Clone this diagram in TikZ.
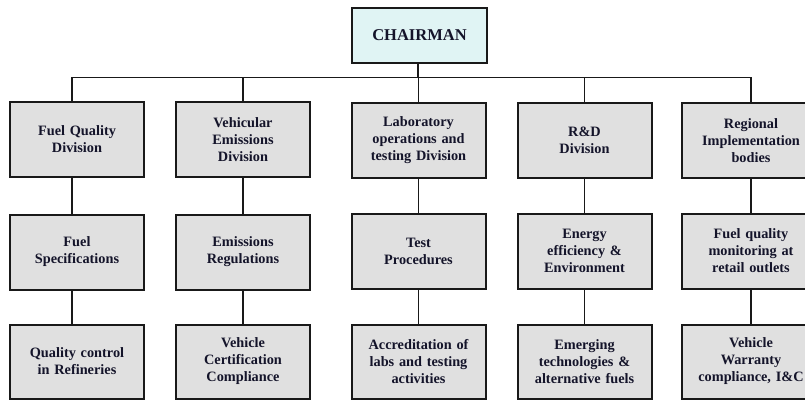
\documentclass[tikz,border=0pt]{standalone}
\usepackage{fontspec}
\setmainfont{Liberation Serif}
\begin{document}
\begin{tikzpicture}[x=1pt,y=-1pt,
  box/.style={draw=black!90, line width=2pt, fill=boxgray, minimum width=134pt, minimum height=75pt,
    text width=128pt, align=center, inner sep=0pt, font=\fontsize{14.3}{17}\selectfont\bfseries, text=textnavy},
  link/.style={draw=black!90, line width=1.6pt}]
\definecolor{boxgray}{HTML}{E0E0E0}
\definecolor{topcyan}{HTML}{E0F4F4}
\definecolor{textnavy}{HTML}{14142A}
\useasboundingbox (0,0) rectangle (805,399);
\clip (0,0) rectangle (805,399);
% top
\node[box, fill=topcyan, minimum width=135pt, minimum height=55pt, font=\fontsize{16.5}{19}\selectfont\bfseries] (ch) at (419.5,35.5) {CHAIRMAN};
% row 1
\node[box] (a1) at (77,139.5) {Fuel Quality\\Division};
\node[box] (b1) at (243,139.5) {Vehicular\\Emissions\\Division};
\node[box] (c1) at (418.5,140) {Laboratory\\operations and\\testing Division};
\node[box] (d1) at (584.5,140) {R\&D\\Division};
\node[box, minimum width=138pt] (e1) at (751,140.5) {Regional\\Implementation\\bodies};
% row 2
\node[box] (a2) at (77,252) {Fuel\\Specifications};
\node[box] (b2) at (243,252) {Emissions\\Regulations};
\node[box] (c2) at (418.5,251.5) {Test\\Procedures};
\node[box] (d2) at (584.5,251) {Energy\\efficiency \&\\Environment};
\node[box, minimum width=138pt] (e2) at (751,251) {Fuel quality\\monitoring at\\retail outlets};
% row 3
\node[box, minimum height=74pt] (a3) at (77,361.5) {Quality control\\in Refineries};
\node[box, minimum height=74pt] (b3) at (243,361.5) {Vehicle\\Certification\\Compliance};
\node[box, minimum height=74pt] (c3) at (418.5,361.5) {Accreditation of\\labs and testing\\activities};
\node[box, minimum height=74pt] (d3) at (584.5,361.5) {Emerging\\technologies \&\\alternative fuels};
\node[box, minimum height=74pt, minimum width=138pt] (e3) at (751,361.5) {Vehicle\\Warranty\\compliance, I\&C};
% connectors
\coordinate (bus) at (0,77.5);
\path[link] ([xshift=-1.5pt]ch.south) -- ([xshift=-1.5pt]ch.south |- bus);
\path[link] ([xshift=-5pt]a1.north) |- (e1.north |- bus) -- (e1.north);
\path[link] (b1.north |- bus) -- (b1.north);
\path[link] (c1.north |- bus) -- (c1.north);
\path[link] (d1.north |- bus) -- (d1.north);
\path[link] ([xshift=-5pt]a1.south) -- ([xshift=-5pt]a1.south |- a2.north);
\path[link] ([xshift=-5pt]a2.south) -- ([xshift=-5pt]a2.south |- a3.north);
\path[link] (b1) -- (b2) (b2) -- (b3);
\path[link] (c1) -- (c2) (c2) -- (c3);
\path[link] (d1) -- (d2) (d2) -- (d3);
\path[link] (e1) -- (e2) (e2) -- (e3);
\end{tikzpicture}
\end{document}
